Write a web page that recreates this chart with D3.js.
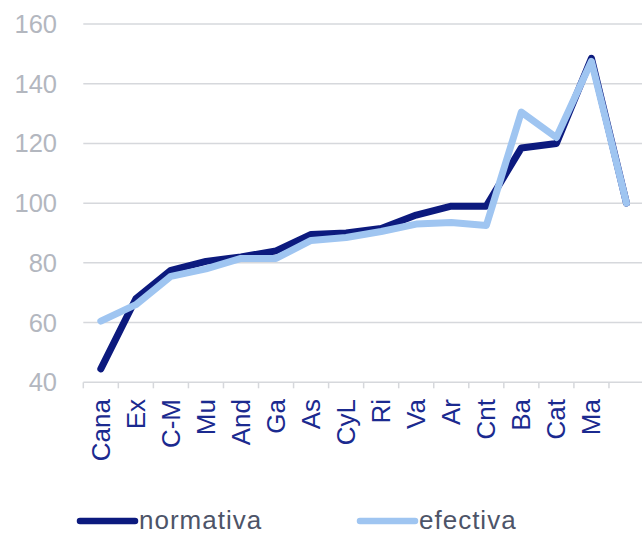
<!DOCTYPE html>
<html><head><meta charset="utf-8">
<script src="https://cdn.jsdelivr.net/npm/d3@7"></script>
<style>body{margin:0;background:#fff}svg{display:block}</style>
</head><body><svg id="c" width="642" height="533"></svg>
<script>
const categories = ["Cana","Ex","C-M","Mu","And","Ga","As","CyL","Ri","Va","Ar","Cnt","Ba","Cat","Ma",""];
const normativa = [44.5,68,77.5,80.5,82,84,89.5,90,91.5,96,99,99,118.5,120,148.5,100];
const efectiva  = [60.5,66,75.5,78,81.5,81.5,87.5,88.5,90.5,93,93.5,92.5,130.5,122,147.5,100];
const yTicks = [40,60,80,100,120,140,160];
const seriesNames = ["normativa","efectiva"];

const svg = d3.select("#c");
const font = "'Liberation Sans', Arial, sans-serif";
const x = d3.scaleBand().domain(categories.map((d,i)=>i)).range([83.3,644]);
const y = d3.scaleLinear().domain([40,160]).range([382.3,24]);

// gridlines
svg.append("g").selectAll("line").data(yTicks.slice(1)).join("line")
  .attr("x1",83.3).attr("x2",642).attr("y1",d=>y(d)).attr("y2",d=>y(d))
  .attr("stroke","#d6d8dc").attr("stroke-width",1.5);

// y labels
svg.append("g").selectAll("text").data(yTicks).join("text")
  .attr("x",57).attr("y",d=>y(d)).attr("dy","0.35em").attr("text-anchor","end")
  .attr("font-family",font).attr("font-size",25.5).attr("fill","#b3b7bf").text(d=>d);

// x axis
svg.append("line").attr("x1",83.3).attr("x2",642).attr("y1",y(40)).attr("y2",y(40))
  .attr("stroke","#d6d8dc").attr("stroke-width",1.5);
const edges = categories.map((d,i)=>x(i));
svg.append("g").selectAll("line").data(edges).join("line")
  .attr("x1",d=>d).attr("x2",d=>d).attr("y1",y(40)).attr("y2",y(40)+6)
  .attr("stroke","#d6d8dc").attr("stroke-width",1.5);
svg.append("g").selectAll("text").data(categories).join("text")
  .attr("transform",(d,i)=>`translate(${x(i)+x.bandwidth()/2+9},399) rotate(-90)`)
  .attr("text-anchor","end").attr("font-family",font).attr("font-size",26)
  .attr("fill","#1b2a8f").text(d=>d);

const line = d3.line().x((d,i)=>x(i)+x.bandwidth()/2).y(d=>y(d));
svg.append("path").datum(normativa).attr("d",line).attr("fill","none")
  .attr("stroke","#0c1a7e").attr("stroke-width",7).attr("stroke-linecap","round").attr("stroke-linejoin","round");
svg.append("path").datum(efectiva).attr("d",line).attr("fill","none")
  .attr("stroke","#9fc5f1").attr("stroke-width",7).attr("stroke-linecap","round").attr("stroke-linejoin","round");

// legend
const leg = [{n:seriesNames[0],c:"#0c1a7e",x0:77},{n:seriesNames[1],c:"#9fc5f1",x0:357}];
const lg = svg.append("g").selectAll("g").data(leg).join("g");
lg.append("line").attr("x1",d=>d.x0+3).attr("x2",d=>d.x0+58).attr("y1",521).attr("y2",521)
  .attr("stroke",d=>d.c).attr("stroke-width",6.5).attr("stroke-linecap","round");
lg.append("text").attr("x",d=>d.x0+62).attr("y",528.5).attr("font-family",font).attr("font-size",26)
  .attr("letter-spacing",1).attr("fill","#4d5468").text(d=>d.n);
</script></body></html>
